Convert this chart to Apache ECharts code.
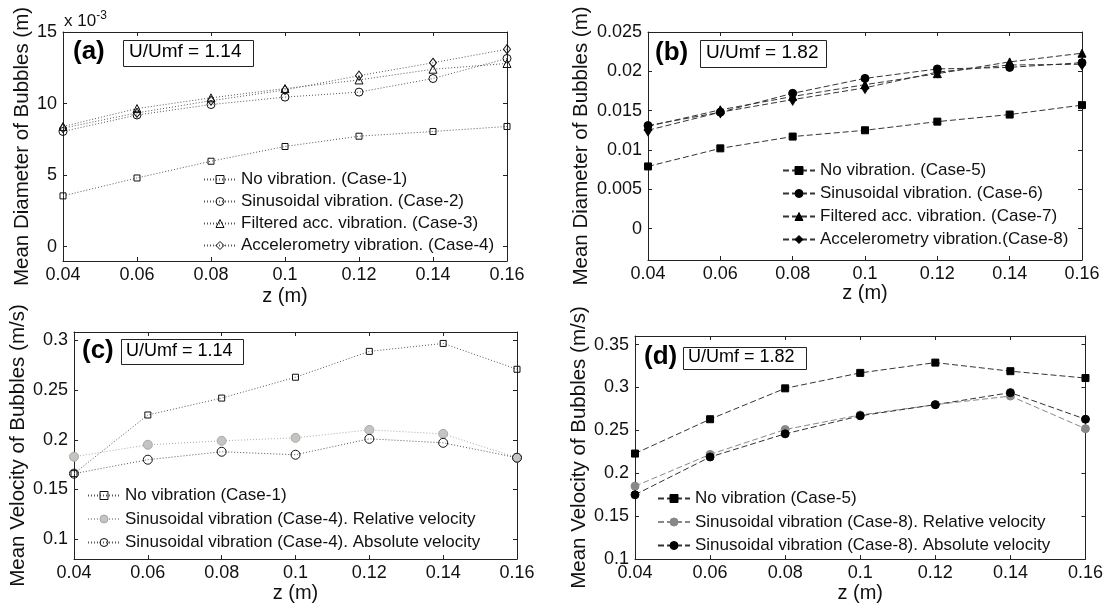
<!DOCTYPE html>
<html><head><meta charset="utf-8">
<script src="https://cdn.jsdelivr.net/npm/echarts@6/dist/echarts.min.js"></script>
<style>html,body{margin:0;padding:0;background:#fff}#c{width:1106px;height:604px}</style>
</head><body><div id="c"></div>
<script>
// ---------- data ----------
const zPositions = [0.04, 0.06, 0.08, 0.10, 0.12, 0.14, 0.16];
const xTicks = [0.04, 0.06, 0.08, 0.1, 0.12, 0.14, 0.16];

// (a) mean bubble diameter (x 10^-3 m), U/Umf = 1.14
const diamCase1 = [3.55, 4.8, 5.97, 7.0, 7.72, 8.05, 8.4];
const diamCase2 = [8.05, 9.2, 9.93, 10.45, 10.8, 11.75, 13.15];
const diamCase3 = [8.4, 9.65, 10.4, 11.05, 11.65, 12.4, 12.8];
const diamCase4 = [8.28, 9.35, 10.2, 10.95, 11.95, 12.85, 13.8];
const yTicksA = [0, 5, 10, 15];

// (b) mean bubble diameter (m), U/Umf = 1.82
const diamCase5 = [0.0079, 0.0102, 0.0117, 0.0125, 0.0136, 0.0145, 0.0157];
const diamCase6 = [0.0131, 0.0148, 0.0172, 0.0191, 0.0203, 0.0205, 0.0211];
const diamCase7 = [0.0130, 0.0151, 0.0168, 0.0183, 0.0197, 0.0212, 0.0223];
const diamCase8 = [0.0125, 0.0148, 0.0164, 0.0179, 0.0199, 0.0208, 0.0209];
const yTicksB = [0, 0.005, 0.01, 0.015, 0.02, 0.025];

// (c) mean bubble velocity (m/s), U/Umf = 1.14
const velCase1 = [0.166, 0.225, 0.242, 0.263, 0.289, 0.297, 0.271];
const velCase4Rel = [0.183, 0.195, 0.199, 0.202, 0.210, 0.206, 0.182];
const velCase4Abs = [0.166, 0.180, 0.188, 0.185, 0.201, 0.197, 0.182];
const yTicksC = [0.1, 0.15, 0.2, 0.25, 0.3];

// (d) mean bubble velocity (m/s), U/Umf = 1.82
const velCase5 = [0.223, 0.263, 0.299, 0.317, 0.329, 0.319, 0.311];
const velCase8Rel = [0.185, 0.222, 0.251, 0.268, 0.280, 0.290, 0.252];
const velCase8Abs = [0.175, 0.219, 0.246, 0.267, 0.280, 0.294, 0.263];
const yTicksD = [0.1, 0.15, 0.2, 0.25, 0.3, 0.35];

const namesA = ['No vibration. (Case-1)', 'Sinusoidal vibration. (Case-2)', 'Filtered acc. vibration. (Case-3)', 'Accelerometry vibration. (Case-4)'];
const namesB = ['No vibration. (Case-5)', 'Sinusoidal vibration. (Case-6)', 'Filtered acc. vibration. (Case-7)', 'Accelerometry vibration.(Case-8)'];
const namesC = ['No vibration (Case-1)', 'Sinusoidal vibration (Case-4). Relative velocity', 'Sinusoidal vibration (Case-4). Absolute velocity'];
const namesD = ['No vibration (Case-5)', 'Sinusoidal vibration (Case-8). Relative velocity', 'Sinusoidal vibration (Case-8). Absolute velocity'];

// ---------- helpers ----------
const FF = 'Liberation Sans, Arial, Helvetica, sans-serif';
const fmt = v => String(parseFloat(Number(v).toFixed(4)));
const pts = arr => zPositions.map((z, i) => [z, arr[i]]);

const grids = [
  {left: 63, top: 32, width: 444, height: 229},
  {left: 648, top: 32, width: 434, height: 228},
  {left: 74, top: 332, width: 443, height: 229},
  {left: 635, top: 336, width: 451, height: 226}
];
const yCfg = [
  {min: -1, max: 15, ticks: yTicksA, name: 'Mean Diameter of Bubbles (m)', gap: 30},
  {min: -0.004, max: 0.025, ticks: yTicksB, name: 'Mean Diameter of Bubbles (m)', gap: 56},
  {min: 0.08, max: 0.3085, ticks: yTicksC, name: 'Mean Velocity of Bubbles (m/s)', gap: 30},
  {min: 0.1, max: 0.36, ticks: yTicksD, name: 'Mean Velocity of Bubbles (m/s)', gap: 44}
];
const xNameGap = [25, 23, 23, 23];

const lineCol = '#222';
const xAxis = [], yAxis = [];
grids.forEach((g, i) => {
  const common = {type: 'value', gridIndex: i, min: 0.04, max: 0.16, splitLine: {show: false},
    axisLine: {onZero: false, lineStyle: {color: lineCol, width: 1}}};
  xAxis.push(Object.assign({}, common, {
    position: 'bottom',
    axisTick: {inside: true, length: 4, customValues: xTicks, lineStyle: {color: lineCol}},
    axisLabel: {customValues: xTicks, formatter: fmt, fontSize: 18, color: '#111', margin: 5, fontFamily: FF},
    name: 'z (m)', nameLocation: 'middle', nameGap: xNameGap[i],
    nameTextStyle: {fontSize: 20, color: '#111', fontFamily: FF}
  }));
  xAxis.push(Object.assign({}, common, {
    position: 'top',
    axisTick: {inside: true, length: 4, customValues: xTicks, lineStyle: {color: lineCol}},
    axisLabel: {show: false}
  }));
  const y = yCfg[i];
  const ycommon = {type: 'value', gridIndex: i, min: y.min, max: y.max, splitLine: {show: false},
    axisLine: {show: true, onZero: false, lineStyle: {color: lineCol, width: 1}}};
  yAxis.push(Object.assign({}, ycommon, {
    position: 'left',
    axisTick: {show: true, inside: true, length: 4, customValues: y.ticks, lineStyle: {color: lineCol}},
    axisLabel: {customValues: y.ticks, formatter: fmt, fontSize: 18, color: '#111', margin: 6, fontFamily: FF},
    name: y.name, nameLocation: 'middle', nameGap: y.gap,
    nameTextStyle: {fontSize: 20.5, color: '#111', fontFamily: FF}
  }));
  yAxis.push(Object.assign({}, ycommon, {
    position: 'right',
    axisTick: {show: true, inside: true, length: 4, customValues: y.ticks, lineStyle: {color: lineCol}},
    axisLabel: {show: false}
  }));
});

const DOT = [1, 2], DASH = [6, 3];
function ser(panel, name, data, symbol, size, lineColor, lineType, fill, border) {
  return {
    type: 'line', name, xAxisIndex: panel * 2, yAxisIndex: panel * 2, data: pts(data),
    symbol, symbolSize: size, showAllSymbol: true, animation: false, color: lineColor,
    lineStyle: {type: lineType, width: 1, color: lineColor},
    itemStyle: {color: fill, borderColor: border, borderWidth: 1, opacity: 1},
    emphasis: {disabled: true}
  };
}
const OPEN = 'rgba(255,255,255,0)';
const series = [
  ser(0, namesA[0], diamCase1, 'rect', 6, '#555', DOT, OPEN, '#111'),
  ser(0, namesA[1], diamCase2, 'circle', 8, '#555', DOT, OPEN, '#111'),
  ser(0, namesA[2], diamCase3, 'triangle', 8, '#555', DOT, OPEN, '#111'),
  ser(0, namesA[3], diamCase4, 'diamond', [7, 9], '#555', DOT, OPEN, '#111'),
  ser(1, namesB[0], diamCase5, 'rect', 7, '#333', DASH, '#000', '#000'),
  ser(1, namesB[1], diamCase6, 'circle', 8, '#333', DASH, '#000', '#000'),
  ser(1, namesB[2], diamCase7, 'triangle', 8, '#333', DASH, '#000', '#000'),
  ser(1, namesB[3], diamCase8, 'diamond', [7, 11], '#333', DASH, '#000', '#000'),
  ser(2, namesC[0], velCase1, 'rect', 6, '#555', DOT, OPEN, '#111'),
  ser(2, namesC[1], velCase4Rel, 'circle', 9, '#aaa', DOT, '#c4c4c0', '#aaa'),
  ser(2, namesC[2], velCase4Abs, 'circle', 9, '#555', DOT, OPEN, '#111'),
  ser(3, namesD[0], velCase5, 'rect', 7, '#333', DASH, '#000', '#000'),
  ser(3, namesD[1], velCase8Rel, 'circle', 8, '#888', DASH, '#888', '#888'),
  ser(3, namesD[2], velCase8Abs, 'circle', 8, '#333', DASH, '#000', '#000')
];

function legend(names, left, top, gap) {
  return {data: names, left, top, orient: 'vertical', itemWidth: 32, itemHeight: 10, itemGap: gap,
    selectedMode: false, padding: 0, itemStyle: {borderWidth: 1},
    textStyle: {fontSize: 17, color: '#111', fontFamily: FF}};
}

function label(txt, x, y, size, bold) {
  return {type: 'text', left: x, top: y - size * 0.6, silent: true,
    style: {text: txt, fill: '#000', font: (bold ? 'bold ' : '') + size + 'px ' + FF}};
}
function box(x, y, w, h) {
  return {type: 'rect', shape: {x, y, width: w, height: h}, silent: true,
    style: {fill: '#fff', stroke: '#222', lineWidth: 1}};
}

const graphic = [
  box(123.5, 40.5, 130, 26), label('(a)', 73, 54, 26, true), label('U/Umf = 1.14', 129, 54, 19, false),
  box(700.5, 40.5, 126, 27), label('(b)', 655, 55, 26, true), label('U/Umf = 1.82', 706, 55, 19, false),
  box(121.5, 339.5, 122, 25), label('(c)', 82, 353, 26, true), label('U/Umf = 1.14', 126, 353, 18, false),
  box(683.5, 347.5, 123, 22), label('(d)', 644, 359, 26, true), label('U/Umf = 1.82', 688, 359, 18, false),
  {type: 'text', left: 64, top: 10, silent: true,
    style: {rich: {b: {fontSize: 17, fontFamily: FF, fill: '#111'}, s: {fontSize: 12, fontFamily: FF, fill: '#111', verticalAlign: 'top', padding: [0, 0, 10, 0]}},
      text: '{b|x 10}{s|-3}'}}
];

const chart = echarts.init(document.getElementById('c'), null, {renderer: 'canvas'});
chart.setOption({
  backgroundColor: '#fff',
  animation: false,
  textStyle: {fontFamily: FF},
  grid: grids,
  xAxis, yAxis, series,
  legend: [
    legend(namesA, 203, 171, 5),
    legend(namesB, 782, 162, 6),
    legend(namesC, 87, 487, 6.5),
    legend(namesD, 657, 490, 6.5)
  ],
  graphic
});
</script></body></html>
